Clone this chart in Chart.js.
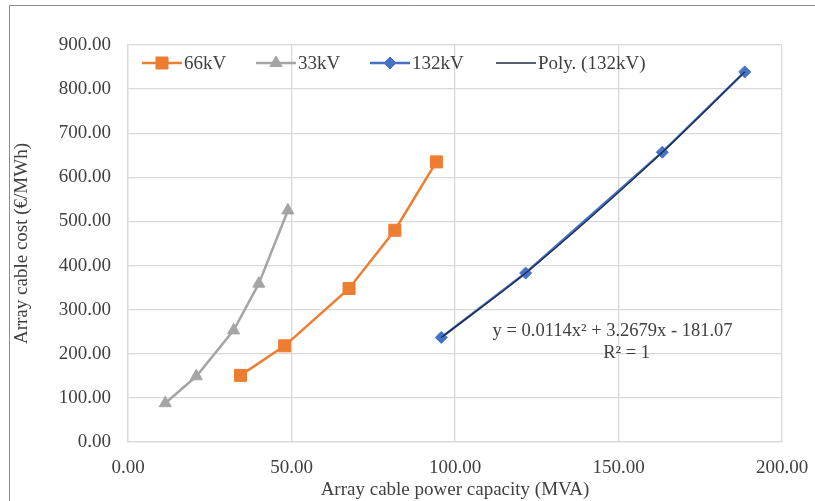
<!DOCTYPE html>
<html>
<head>
<meta charset="utf-8">
<script src="https://cdn.jsdelivr.net/npm/chart.js@4.4.1/dist/chart.umd.min.js"></script>
<style>
  html, body { margin: 0; padding: 0; background: #fff; }
  #wrap { width: 815px; height: 501px; position: relative; }
</style>
</head>
<body>
<div id="wrap"><canvas id="cableChart"></canvas></div>
<script>
// values
const kv66X = [34.4, 47.9, 67.6, 81.6, 94.3];
const kv66Y = [151, 218, 348, 480, 635];
const kv33X = [11.4, 20.9, 32.3, 40.0, 48.9];
const kv33Y = [88, 149, 253, 359, 525];
const kv132X = [95.8, 121.6, 163.4, 188.6];
const kv132Y = [237, 383, 657, 839];
const xTicks = [0, 50, 100, 150, 200];
const yTicks = [0, 100, 200, 300, 400, 500, 600, 700, 800, 900];
const seriesNames = ['66kV', '33kV', '132kV', 'Poly. (132kV)'];
const trendEquation = 'y = 0.0114x² + 3.2679x - 181.07';
const trendR2 = 'R² = 1';

const SERIF = "'Liberation Serif', 'Times New Roman', serif";
const TEXT = '#404040';
const GRID = '#d9d9d9';

function pts(xs, ys) {
    return xs.map((x, i) => ({ x: x, y: ys[i] }));
}

// outer frame (left + top only are visible in the reference)
const framePlugin = {
    id: 'frame',
    beforeDraw(chart) {
        const ctx = chart.ctx;
        ctx.save();
        ctx.strokeStyle = '#8c8c8c';
        ctx.lineWidth = 1;
        ctx.beginPath();
        ctx.moveTo(9.5, chart.height);
        ctx.lineTo(9.5, 5.5);
        ctx.lineTo(chart.width, 5.5);
        ctx.stroke();
        ctx.restore();
    }
};

// legend drawn inside the plot area, like Excel does it
const legendPlugin = {
    id: 'insideLegend',
    afterDatasetsDraw(chart) {
        const ctx = chart.ctx;
        const starts = [142, 256, 370, 496];
        const y = 63;
        const lineLen = 40;
        ctx.save();
        chart.data.datasets.forEach((ds, i) => {
            const x0 = starts[i];
            ctx.strokeStyle = ds.borderColor;
            ctx.lineWidth = ds.borderWidth;
            ctx.beginPath();
            ctx.moveTo(x0, y);
            ctx.lineTo(x0 + lineLen, y);
            ctx.stroke();
            if (ds.pointRadius > 0) {
                ctx.fillStyle = ds.pointBackgroundColor;
                ctx.strokeStyle = ds.pointBorderColor;
                ctx.lineWidth = 1;
                Chart.helpers.drawPoint(ctx, {
                    pointStyle: ds.pointStyle,
                    radius: ds.pointRadius,
                    rotation: 0,
                    borderWidth: 1
                }, x0 + lineLen / 2, y);
            }
            ctx.fillStyle = TEXT;
            ctx.font = '19px ' + SERIF;
            ctx.textBaseline = 'middle';
            ctx.textAlign = 'left';
            ctx.fillText(ds.label, x0 + lineLen + 2, y + 1);
        });
        ctx.restore();
    }
};

// trendline equation label
const equationPlugin = {
    id: 'equation',
    afterDatasetsDraw(chart) {
        const ctx = chart.ctx;
        const xs = chart.scales.x, ys = chart.scales.y;
        ctx.save();
        ctx.fillStyle = TEXT;
        ctx.font = '18.5px ' + SERIF;
        ctx.textBaseline = 'middle';
        ctx.textAlign = 'left';
        ctx.fillText(trendEquation, xs.getPixelForValue(111.5), ys.getPixelForValue(251));
        ctx.textAlign = 'center';
        ctx.fillText(trendR2, xs.getPixelForValue(152.5), ys.getPixelForValue(201));
        ctx.restore();
    }
};

const ctx = document.getElementById('cableChart').getContext('2d');

new Chart(ctx, {
    type: 'line',
    data: {
        datasets: [
            {
                label: seriesNames[0],
                data: pts(kv66X, kv66Y),
                borderColor: '#ed7d31',
                borderWidth: 2.5,
                pointStyle: 'rect',
                pointRadius: 8.5,
                pointBackgroundColor: '#ed7d31',
                pointBorderColor: '#ed7d31',
                pointBorderWidth: 1,
                order: 1
            },
            {
                label: seriesNames[1],
                data: pts(kv33X, kv33Y),
                borderColor: '#a5a5a5',
                borderWidth: 2.5,
                pointStyle: 'triangle',
                pointRadius: 7,
                pointBackgroundColor: '#a5a5a5',
                pointBorderColor: '#a5a5a5',
                pointBorderWidth: 1,
                order: 1
            },
            {
                label: seriesNames[2],
                data: pts(kv132X, kv132Y),
                borderColor: '#4472c4',
                borderWidth: 2.5,
                pointStyle: 'rectRot',
                pointRadius: 6,
                pointBackgroundColor: '#4472c4',
                pointBorderColor: '#4472c4',
                pointBorderWidth: 1,
                order: 1
            },
            {
                label: seriesNames[3],
                data: pts(kv132X, kv132Y),
                borderColor: '#1f2b45',
                borderWidth: 1.3,
                pointRadius: 0,
                cubicInterpolationMode: 'monotone',
                order: 0
            }
        ]
    },
    options: {
        responsive: true,
        maintainAspectRatio: false,
        animation: false,
        layout: { padding: { left: 0, top: 45, right: 33, bottom: 0 } },
        plugins: {
            legend: { display: false },
            tooltip: { enabled: false }
        },
        scales: {
            x: {
                type: 'linear',
                min: 0,
                max: 200,
                afterBuildTicks: s => { s.ticks = xTicks.map(v => ({ value: v })); },
                afterFit: s => { s.height = 59; s.paddingLeft = 0; s.paddingRight = 0; },
                grid: { color: GRID, lineWidth: 1.3, drawTicks: false },
                border: { color: GRID, width: 1.3 },
                ticks: {
                    color: TEXT,
                    padding: 15,
                    maxRotation: 0,
                    font: { family: SERIF, size: 19 },
                    callback: v => Number(v).toFixed(2)
                },
                title: {
                    display: true,
                    text: 'Array cable power capacity (MVA)',
                    color: TEXT,
                    font: { family: SERIF, size: 19 },
                    padding: { top: 0, bottom: 0 }
                }
            },
            y: {
                min: 0,
                max: 900,
                afterBuildTicks: s => { s.ticks = yTicks.map(v => ({ value: v })); },
                afterFit: s => { s.width = 128; s.paddingTop = 0; s.paddingBottom = 0; },
                grid: { color: GRID, lineWidth: 1.3, drawTicks: false },
                border: { color: GRID, width: 1.3 },
                ticks: {
                    color: TEXT,
                    padding: 17,
                    font: { family: SERIF, size: 19 },
                    callback: v => Number(v).toFixed(2)
                },
                title: {
                    display: true,
                    text: 'Array cable cost (€/MWh)',
                    color: TEXT,
                    font: { family: SERIF, size: 19 },
                    padding: { top: 11, bottom: 0 }
                }
            }
        }
    },
    plugins: [framePlugin, legendPlugin, equationPlugin]
});
</script>
</body>
</html>
